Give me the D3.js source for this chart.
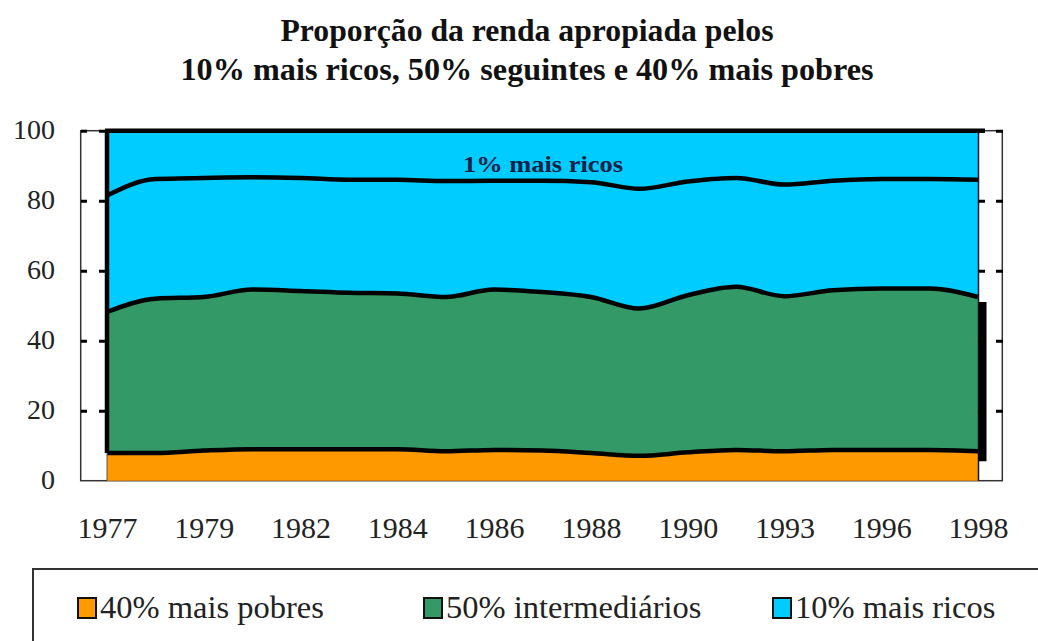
<!DOCTYPE html>
<html>
<head>
<meta charset="utf-8">
<script src="https://cdn.jsdelivr.net/npm/d3@7"></script>
<style>
    body { margin: 0; background: #fff; }
    text { font-family: "Liberation Serif", "Times New Roman", serif; }
    .axis path.domain { display: none; }
</style>
</head>
<body>
<script>
// Anos da série (rótulos só em anos alternados)
var years = [1977, 1978, 1979, 1981, 1982, 1983, 1984, 1985, 1986, 1987,
             1988, 1989, 1990, 1992, 1993, 1995, 1996, 1997, 1998];
var yearLabels = [1977, 1979, 1982, 1984, 1986, 1988, 1990, 1993, 1996, 1998];

// Participação na renda (%)
var pobres40 = [7.9, 7.9, 8.6, 9.0, 9.0, 9.0, 9.0, 8.4, 8.8, 8.6,
                7.9, 7.1, 8.1, 8.8, 8.4, 8.8, 8.8, 8.8, 8.4];
var intermed50 = [40.3, 44.1, 43.9, 45.6, 45.2, 44.7, 44.5, 44.1, 45.8, 45.3,
                  44.6, 42.1, 44.9, 46.6, 44.3, 45.6, 46.1, 46.1, 44.1];
var ricos10 = [51.8, 48.0, 47.5, 45.4, 45.8, 46.3, 46.5, 47.5, 45.4, 46.1,
               47.5, 50.8, 47.0, 44.6, 47.3, 45.6, 45.1, 45.1, 47.5];
var ricos1 = [18.5, 13.8, 13.5, 13.3, 13.5, 14.0, 14.0, 14.4, 14.3, 14.3,
              14.7, 16.6, 14.5, 13.5, 15.4, 14.3, 13.8, 13.8, 14.0];
var yTicks = [0, 20, 40, 60, 80, 100];

var legendItems = [
    { label: '40% mais pobres', color: '#FF9900', x: 77 },
    { label: '50% intermediários', color: '#339966', x: 423 },
    { label: '10% mais ricos', color: '#00CCFF', x: 772 }
];

var serif = '"Liberation Serif", "Times New Roman", serif';

var table = years.map(function (yr, i) {
    return {
        year: yr,
        pobres: pobres40[i],
        intermed: intermed50[i],
        ricos9: ricos10[i] - ricos1[i],
        ricos1: ricos1[i]
    };
});

var width = 1038, height = 641;
var svg = d3.select('body').append('svg')
    .attr('width', width)
    .attr('height', height)
    .attr('font-family', serif);

var x = d3.scalePoint().domain(years).range([107, 978]);
var y = d3.scaleLinear().domain([0, 100]).range([480.7, 130.7]);

// Título
var title = svg.append('g').attr('font-weight', 'bold').attr('fill', '#111')
    .attr('font-size', 31).attr('text-anchor', 'middle');
title.append('text').attr('x', 527).attr('y', 41)
    .attr('textLength', 493).attr('lengthAdjust', 'spacingAndGlyphs')
    .text('Proporção da renda apropiada pelos');
title.append('text').attr('x', 527).attr('y', 80)
    .attr('textLength', 693).attr('lengthAdjust', 'spacingAndGlyphs')
    .text('10% mais ricos, 50% seguintes e 40% mais pobres');

// Moldura do gráfico
svg.append('rect')
    .attr('x', 80.7).attr('y', 130.7)
    .attr('width', 1002.3 - 80.7).attr('height', 480.7 - 130.7)
    .attr('fill', '#fff').attr('stroke', '#333').attr('stroke-width', 1.5);

// Áreas empilhadas
var keys = ['pobres', 'intermed', 'ricos9', 'ricos1'];
var colors = { pobres: '#FF9900', intermed: '#339966', ricos9: '#00CCFF', ricos1: '#00CCFF' };
var series = d3.stack().keys(keys)(table);

var curve = d3.curveMonotoneX;
var area = d3.area()
    .curve(curve)
    .x(function (d) { return x(d.data.year); })
    .y0(function (d) { return y(d[0]); })
    .y1(function (d) { return y(d[1]); });

svg.append('g').selectAll('path')
    .data(series)
    .join('path')
    .attr('fill', function (s) { return colors[s.key]; })
    .attr('d', area);

// Linhas divisórias entre as camadas
var line = d3.line()
    .curve(curve)
    .x(function (d) { return x(d.data.year); })
    .y(function (d) { return y(d[1]); });

svg.append('g').selectAll('path')
    .data(series.slice(0, 3))
    .join('path')
    .attr('fill', 'none')
    .attr('stroke', '#000')
    .attr('stroke-width', 4.5)
    .attr('d', line);

// topo (100%)
svg.append('line')
    .attr('x1', x(years[0]) - 2).attr('x2', x(years[years.length - 1]) + 7)
    .attr('y1', y(100)).attr('y2', y(100))
    .attr('stroke', '#000').attr('stroke-width', 4.5);

// borda esquerda
svg.append('line')
    .attr('x1', x(years[0])).attr('x2', x(years[0]))
    .attr('y1', y(100)).attr('y2', y(pobres40[0]))
    .attr('stroke', '#000').attr('stroke-width', 4.5);
svg.append('line')
    .attr('x1', x(years[0])).attr('x2', x(years[0]))
    .attr('y1', y(pobres40[0])).attr('y2', y(0))
    .attr('stroke', '#555').attr('stroke-width', 1);

// borda direita
var last = years.length - 1;
svg.append('line')
    .attr('x1', x(years[last]) + 0.5).attr('x2', x(years[last]) + 0.5)
    .attr('y1', y(100)).attr('y2', y(0))
    .attr('stroke', '#0a1a33').attr('stroke-width', 1.5);

// Eixo esquerdo (marcas tracejadas + rótulos)
var leftAxis = svg.append('g')
    .attr('class', 'axis')
    .attr('transform', 'translate(' + x(years[0]) + ',0)')
    .call(d3.axisLeft(y).tickValues(yTicks).tickSize(26).tickPadding(26))
    .attr('font-family', serif);
leftAxis.selectAll('.tick line')
    .attr('stroke', '#000').attr('stroke-width', 3)
    .attr('stroke-dasharray', '8,12,6')
    .attr('display', function (d) { return d === 0 ? 'none' : null; });
leftAxis.selectAll('.tick text')
    .attr('font-size', 28).attr('fill', '#222')
    .attr('dy', 8);

// Eixo direito (só marcas)
var rightAxis = svg.append('g')
    .attr('class', 'axis')
    .attr('transform', 'translate(' + x(years[last]) + ',0)')
    .call(d3.axisRight(y).tickValues(yTicks).tickSize(25).tickFormat(''));
rightAxis.selectAll('.tick line')
    .attr('stroke', '#000').attr('stroke-width', 3)
    .attr('stroke-dasharray', '7,11,7')
    .attr('display', function (d) { return d === 0 ? 'none' : null; });

// Barra preta na borda direita da camada intermediária
svg.append('line')
    .attr('x1', x(years[last]) + 4.5).attr('x2', x(years[last]) + 4.5)
    .attr('y1', y(intermed50[last] + pobres40[last]) + 5)
    .attr('y2', y(pobres40[last]) + 10)
    .attr('stroke', '#000').attr('stroke-width', 8);

// Eixo X
var xAxis = svg.append('g')
    .attr('class', 'axis')
    .attr('transform', 'translate(0,' + y(0) + ')')
    .call(d3.axisBottom(x).tickValues(yearLabels).tickSize(0))
    .attr('font-family', serif);
xAxis.selectAll('.tick text')
    .attr('y', 57).attr('dy', 0)
    .attr('font-size', 30).attr('fill', '#222');

// Rótulo "1% mais ricos"
svg.append('text')
    .attr('x', 543).attr('y', 171.5)
    .attr('text-anchor', 'middle')
    .attr('font-weight', 'bold').attr('font-size', 23)
    .attr('fill', '#0d2245')
    .attr('textLength', 160).attr('lengthAdjust', 'spacingAndGlyphs')
    .text('1% mais ricos');

// Legenda
svg.append('rect')
    .attr('x', 33).attr('y', 569)
    .attr('width', 1100).attr('height', 200)
    .attr('fill', 'none').attr('stroke', '#333').attr('stroke-width', 2);

var legend = svg.append('g').selectAll('g')
    .data(legendItems)
    .join('g')
    .attr('transform', function (d) { return 'translate(' + d.x + ',0)'; });
legend.append('rect')
    .attr('x', 1).attr('y', 598)
    .attr('width', 18).attr('height', 20)
    .attr('fill', function (d) { return d.color; })
    .attr('stroke', '#111').attr('stroke-width', 2);
legend.append('text')
    .attr('x', 23).attr('y', 618)
    .attr('font-size', 32.5).attr('fill', '#222')
    .text(function (d) { return d.label; });
</script>
</body>
</html>
